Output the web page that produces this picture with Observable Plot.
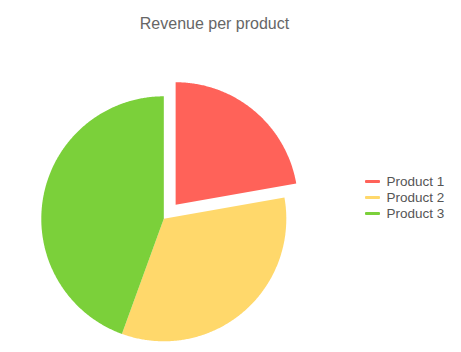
<!DOCTYPE html>
<html>
<head>
<meta charset="utf-8">
<script src="https://cdn.jsdelivr.net/npm/d3@7"></script>
<script src="https://cdn.jsdelivr.net/npm/@observablehq/plot@0.6"></script>
<style>
  html, body { margin: 0; padding: 0; background: #fff; }
  #wrap { position: relative; width: 461px; height: 352px; font-family: "Liberation Sans", Arial, sans-serif; }
  #title { position: absolute; left: 0; top: 15.5px; width: 429px; text-align: center; font-size: 16px; line-height: 16px; color: #666; }
  #chart { position: absolute; left: 0; top: 0; }
  #legend { position: absolute; left: 365px; top: 173.5px; font-size: 13.5px; color: #555; }
  .item { height: 16px; line-height: 16px; display: flex; align-items: center; white-space: nowrap; }
  .sw { width: 15px; height: 3px; margin-right: 6.5px; border-radius: 1px; }
</style>
</head>
<body>
<div id="wrap">
  <div id="chart"></div>
  <div id="title">Revenue per product</div>
  <div id="legend"></div>
</div>
<script>
const products = ["Product 1", "Product 2", "Product 3"];
const revenue = [200, 300, 400];
const colors = ["#ff6259", "#ffd86b", "#7bd03a"];

const explodedProduct = "Product 1";
const explodeOffset = 0.15; // fraction of radius

// compute slice outlines in unit coordinates (y up), starting at top, clockwise
const pie = d3.pie().sort(null).value(d => d.value)(products.map((p, i) => ({product: p, value: revenue[i]})));
const pts = [];
for (const s of pie) {
  const mid = (s.startAngle + s.endAngle) / 2;
  const off = s.data.product === explodedProduct ? explodeOffset : 0;
  const ox = off * Math.sin(mid), oy = off * Math.cos(mid);
  pts.push({product: s.data.product, x: ox, y: oy});
  const steps = Math.max(2, Math.ceil((s.endAngle - s.startAngle) / (Math.PI / 360)));
  for (let k = 0; k <= steps; k++) {
    const a = s.startAngle + (s.endAngle - s.startAngle) * k / steps;
    pts.push({product: s.data.product, x: ox + Math.sin(a), y: oy + Math.cos(a)});
  }
}

const cx = 163.3, cy = 218.3, r = 122.5;
const chart = Plot.plot({
  width: 461,
  height: 352,
  margin: 0,
  axis: null,
  x: {domain: [-1, 1], range: [cx - r, cx + r]},
  y: {domain: [-1, 1], range: [cy + r, cy - r]},
  color: {domain: products, range: colors},
  marks: [
    Plot.line(pts, {x: "x", y: "y", z: "product", fill: "product", stroke: null, curve: "linear"})
  ]
});
document.getElementById("chart").appendChild(chart);

const legend = document.getElementById("legend");
products.forEach((p, i) => {
  const it = document.createElement("div");
  it.className = "item";
  const sw = document.createElement("span");
  sw.className = "sw";
  sw.style.background = chart.scale("color").apply(p);
  const t = document.createElement("span");
  t.textContent = p;
  it.appendChild(sw); it.appendChild(t);
  legend.appendChild(it);
});
</script>
</body>
</html>
